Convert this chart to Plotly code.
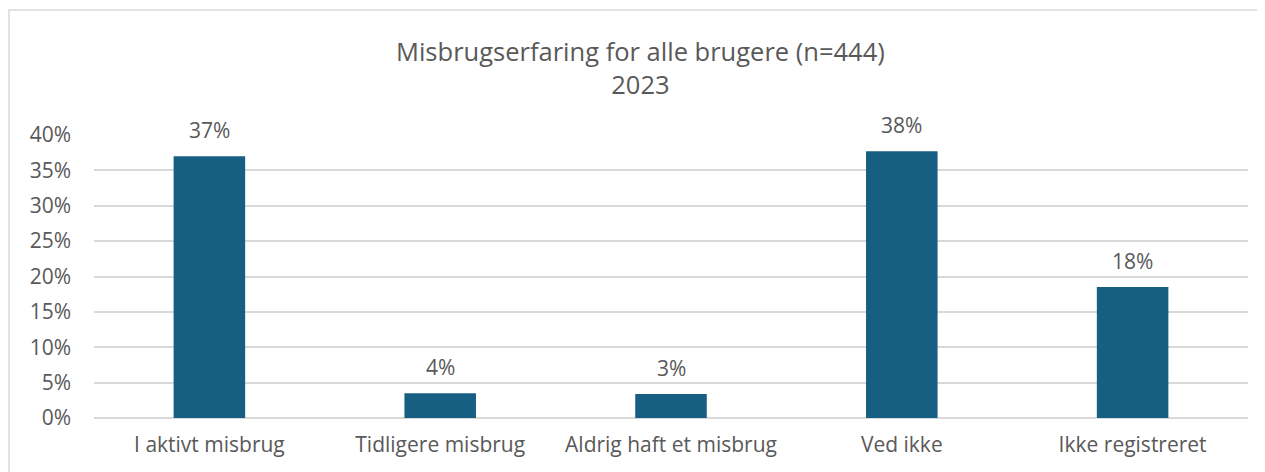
import plotly.graph_objects as go

categories = ["I aktivt misbrug", "Tidligere misbrug", "Aldrig haft et misbrug", "Ved ikke", "Ikke registreret"]
values = [0.37, 0.035, 0.034, 0.377, 0.185]
labels = ["37%", "4%", "3%", "38%", "18%"]
tick_vals = [0, 0.05, 0.10, 0.15, 0.20, 0.25, 0.30, 0.35, 0.40]
tick_text = ["0%", "5%", "10%", "15%", "20%", "25%", "30%", "35%", "40%"]

TXT = "#595959"
FONT = "Open Sans, sans-serif"

# page body has an 8px margin; place figure accordingly
OFF = 8
W, H = 1265 - OFF, 472 - OFF
px_l, px_r, px_t, px_b = 94 - OFF, 1248 - OFF, 135 - OFF, 418 - OFF
L, R, T, B = px_l, W - px_r, px_t, H - px_b
pw, ph = px_r - px_l, px_b - px_t

fig = go.Figure(go.Bar(
    x=categories, y=values,
    marker=dict(color="#175F82", line=dict(width=0)),
    width=0.31, cliponaxis=False, hoverinfo="x+y",
))

annotations = [dict(
    x=c, y=v, xref="x", yref="y", text=t, showarrow=False,
    xanchor="center", yanchor="middle", yshift=26,
    font=dict(size=21, color=TXT, family=FONT),
) for c, v, t in zip(categories, values, labels)]

annotations.append(dict(
    text="Misbrugserfaring for alle brugere (n=444)<br>2023",
    xref="paper", yref="paper", x=(640 - OFF - px_l) / pw, y=(px_b - (67 - OFF)) / ph,
    xanchor="center", yanchor="middle", showarrow=False,
    font=dict(size=25.5, color=TXT, family=FONT),
))

fig.update_layout(
    width=W, height=H,
    margin=dict(l=L, r=R, t=T, b=B),
    paper_bgcolor="white", plot_bgcolor="white",
    showlegend=False,
    xaxis=dict(showgrid=False, showline=False, ticks="", tickfont=dict(size=21, color=TXT, family=FONT),
               ticklabelstandoff=12),
    yaxis=dict(range=[0, 0.40], tickvals=tick_vals, ticktext=tick_text, showgrid=True,
               gridcolor="#D9D9D9", gridwidth=1.5, zeroline=True, zerolinecolor="#D9D9D9", zerolinewidth=1.5,
               showline=False, ticks="", tickfont=dict(size=21, color=TXT, family=FONT),
               ticklabelstandoff=22),
    annotations=annotations,
    shapes=[dict(type="rect", xref="paper", yref="paper",
                 x0=(9 - OFF - px_l) / pw, x1=(1262 - OFF - px_l) / pw,
                 y0=(px_b - (490 - OFF)) / ph, y1=(px_b - (10 - OFF)) / ph,
                 line=dict(color="#D9D9D9", width=1.5), fillcolor="rgba(0,0,0,0)", layer="below")],
)

fig.write_html("out.html")
